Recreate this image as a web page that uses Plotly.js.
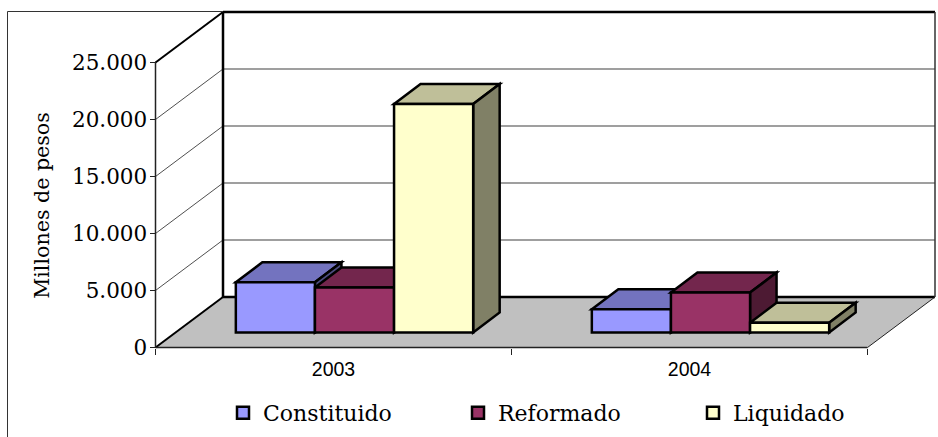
<!DOCTYPE html>
<html>
<head>
<meta charset="utf-8">
<script src="https://cdn.plot.ly/plotly-3.0.1.min.js"></script>
<style>html,body{margin:0;padding:0;background:#fff}#c{width:938px;height:437px}</style>
</head>
<body>
<div id="c"></div>
<script>
// --- data ---
var categories = ['2003', '2004'];
var seriesNames = ['Constituido', 'Reformado', 'Liquidado'];
var constituido = [4400, 2050];
var reformado = [3950, 3500];
var liquidado = [20050, 850];
var yTicks = [0, 5000, 10000, 15000, 20000, 25000];
var yTickLabels = ['0', '5.000', '10.000', '15.000', '20.000', '25.000'];
var yTitle = 'Millones de pesos';
var frontColors = ['#9999FF', '#993366', '#FFFFCC'];
var topColors = ['#7373BF', '#73264D', '#BFBF99'];
var sideColors = ['#4D4D80', '#4D1A33', '#808066'];

// --- scale: one x unit = one category, y unit = value ---
var W = 938, H = 437, plotBottomPx = 411;
var x0px = 155.5, y0px = 347.5, xUnit = 356, yUnit = 285 / 25000;
var xRange = [-x0px / xUnit, (W - x0px) / xUnit];
var yRange = [(y0px - plotBottomPx) / yUnit, y0px / yUnit];
function dx(px) { return px / xUnit; }
function dy(px) { return px / yUnit; }

// projection offsets
var wallDx = dx(67.5), wallDy = dy(50.5);
var barBaseDx = dx(21), barBaseDy = dy(15);
var barDepthDx = dx(26.5), barDepthDy = dy(20);
var bargap = 1 / 3;
var barW = (1 - bargap) / 3;
var allValues = [constituido, reformado, liquidado];
var catCentres = categories.map(function (_, i) { return i + 0.5; });
var catEdges = [0, 1, 2];

function poly(pts, fill, lineColor, lineWidth) {
  return {
    type: 'path', xref: 'x', yref: 'y', layer: 'below',
    path: 'M' + pts.map(function (p) { return p[0] + ',' + p[1]; }).join('L') + 'Z',
    fillcolor: fill || 'rgba(0,0,0,0)',
    line: { color: lineColor || '#000', width: lineWidth == null ? 2.5 : lineWidth }
  };
}
function seg(x1, y1, x2, y2, color, width) {
  return { type: 'line', xref: 'x', yref: 'y', layer: 'below', x0: x1, y0: y1, x1: x2, y1: y2,
    line: { color: color, width: width } };
}

var shapes = [];
var yMax = yTicks[yTicks.length - 1];
var xEnd = catEdges[catEdges.length - 1];
// floor
shapes.push(poly([[0, 0], [wallDx, wallDy], [xEnd + wallDx, wallDy], [xEnd, 0]], '#C0C0C0', '#000', 0));
// gridlines
yTicks.slice(1).forEach(function (v) {
  if (v < yMax) shapes.push(seg(wallDx, v + wallDy, xEnd + wallDx, v + wallDy, '#7f7f7f', 1.3));
  if (v < yMax) shapes.push(seg(0, v, wallDx, v + wallDy, '#222', 0.8));
});
// wall frame
shapes.push(seg(wallDx, wallDy, xEnd + wallDx, wallDy, '#000', 2.5));
shapes.push(seg(wallDx, wallDy, wallDx, yMax + wallDy, '#000', 2.5));
shapes.push(seg(wallDx, yMax + wallDy, xEnd + wallDx, yMax + wallDy, '#000', 2.5));
shapes.push(seg(xEnd + wallDx, wallDy, xEnd + wallDx, yMax + wallDy, '#333', 1.5));
shapes.push(seg(0, yMax, wallDx, yMax + wallDy, '#000', 2));
shapes.push(seg(0, 0, wallDx, wallDy, '#000', 2));
shapes.push(seg(0, 0, 0, yMax, '#222', 1.5));
shapes.push(seg(0, 0, xEnd, 0, '#222', 1.5));
shapes.push(seg(xEnd, 0, xEnd + wallDx, wallDy, '#222', 1));
// outer chart border
shapes.push({ type: 'line', xref: 'x', yref: 'paper', layer: 'below', x0: dx(7.5 - x0px), x1: dx(7.5 - x0px), y0: 0, y1: 1 - 11.5 / H, line: { color: '#333', width: 1 } });
shapes.push(seg(dx(7.5 - x0px), dy(y0px - 11.5), wallDx, dy(y0px - 11.5), '#333', 1));

// top and side faces of the bars, left to right; bar fronts (traces) lie on top
categories.forEach(function (_, c) {
  allValues.forEach(function (vals, s) {
    var xl = catCentres[c] + barBaseDx - 1.5 * barW + s * barW, xr = xl + barW;
    var base = barBaseDy, top = base + vals[c];
    shapes.push(poly([[xl, top], [xl + barDepthDx, top + barDepthDy], [xr + barDepthDx, top + barDepthDy], [xr, top]], topColors[s]));
    shapes.push(poly([[xr, top], [xr + barDepthDx, top + barDepthDy], [xr + barDepthDx, base + barDepthDy], [xr, base]], sideColors[s]));
  });
});

var traces = allValues.map(function (vals, s) {
  return {
    type: 'bar', name: seriesNames[s],
    x: catCentres.map(function (v) { return v + barBaseDx; }),
    y: vals, base: [barBaseDy, barBaseDy],
    marker: { color: frontColors[s], line: { color: '#000', width: 2.5 } },
    hoverinfo: 'name+y'
  };
});

var serif = '"DejaVu Serif", serif';
var layout = {
  width: W, height: H,
  margin: { l: 0, r: 0, t: 0, b: 0, pad: 0, autoexpand: false },
  paper_bgcolor: '#fff', plot_bgcolor: 'rgba(0,0,0,0)',
  barmode: 'group', bargap: bargap, bargroupgap: 0,
  showlegend: true,
  legend: {
    orientation: 'h', x: 223 / W, xanchor: 'left', y: 1 - 392 / H, yanchor: 'top',
    entrywidth: 190, entrywidthmode: 'pixels', bgcolor: 'rgba(0,0,0,0)',
    traceorder: 'normal', itemclick: false, itemdoubleclick: false,
    font: { family: serif, size: 22, color: '#000' }
  },
  xaxis: {
    domain: [0, 1], range: xRange, anchor: 'free', position: (H - y0px) / H,
    showgrid: false, zeroline: false, showline: false,
    tickmode: 'array', tickvals: catCentres, ticktext: categories,
    ticks: 'outside', ticklen: 4, tickcolor: 'rgba(0,0,0,0)',
    minor: { tickmode: 'array', tickvals: catEdges, ticks: 'outside', ticklen: 6, tickcolor: '#222', tickwidth: 1, showgrid: false },
    tickfont: { family: '"Liberation Sans", Arial, sans-serif', size: 19.5, color: '#000' }
  },
  yaxis: {
    domain: [1 - plotBottomPx / H, 1], range: yRange, anchor: 'free', position: x0px / W,
    showgrid: false, zeroline: false, showline: false,
    tickmode: 'array', tickvals: yTicks, ticktext: yTickLabels,
    ticks: 'outside', ticklen: 6, tickcolor: '#222', tickwidth: 1, ticklabelstandoff: -2,
    tickfont: { family: serif, size: 21.5, color: '#000' },
    title: { text: yTitle, standoff: 15, font: { family: serif, size: 20.6, color: '#000' } }
  },
  shapes: shapes
};
Plotly.newPlot('c', traces, layout, { displayModeBar: false });
</script>
</body>
</html>
